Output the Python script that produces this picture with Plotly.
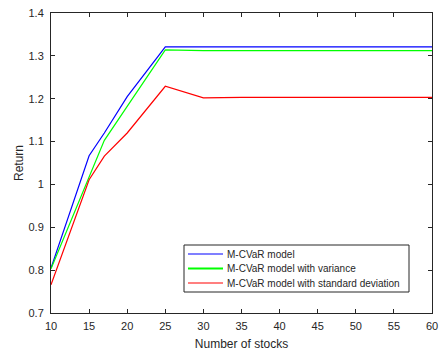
import plotly.graph_objects as go

# Number of stocks in the portfolio
stocks = [10, 15, 17, 20, 25, 30, 35, 40, 45, 50, 55, 60]

# Portfolio return for each model
ret_mcvar = [0.805, 1.067, 1.120, 1.205, 1.321, 1.321, 1.321, 1.321, 1.321, 1.321, 1.321, 1.321]
ret_variance = [0.803, 1.015, 1.103, 1.182, 1.314, 1.312, 1.312, 1.312, 1.312, 1.312, 1.312, 1.312]
ret_std = [0.766, 1.011, 1.066, 1.120, 1.229, 1.202, 1.203, 1.203, 1.203, 1.203, 1.203, 1.203]

series_names = ["M-CVaR model", "M-CVaR model with variance", "M-CVaR model with standard deviation"]
series_colors = ["#0000FF", "#00FF00", "#FF0000"]
legend_widths = [1.2, 2.2, 1.2]

x_ticks = [10, 15, 20, 25, 30, 35, 40, 45, 50, 55, 60]
y_ticks = [0.7, 0.8, 0.9, 1.0, 1.1, 1.2, 1.3, 1.4]
y_tick_text = ["0.7", "0.8", "0.9", "1", "1.1", "1.2", "1.3", "1.4"]

FONT = "Arial, Liberation Sans, sans-serif"
TEXT_COLOR = "#262626"

W, H = 441, 355
ML, MR, MT, MB = 51, 9, 13, 42
PW, PH = W - ML - MR, H - MT - MB

fig = go.Figure()
for name, values, color in zip(series_names, [ret_mcvar, ret_variance, ret_std], series_colors):
    fig.add_trace(go.Scatter(
        x=stocks, y=values, mode="lines", name=name,
        line=dict(color=color, width=1.2), showlegend=False,
    ))

axis_common = dict(
    showline=True, linecolor=TEXT_COLOR, linewidth=1, mirror="ticks",
    ticks="inside", ticklen=4, tickcolor=TEXT_COLOR, tickwidth=1,
    showgrid=False, zeroline=False, automargin=False,
    tickfont=dict(family=FONT, size=11, color=TEXT_COLOR),
)

fig.update_xaxes(
    range=[10, 60], tickvals=x_ticks, ticklabelstandoff=3,
    title=dict(text="Number of stocks", standoff=8,
               font=dict(family=FONT, size=12, color=TEXT_COLOR)),
    **axis_common,
)
fig.update_yaxes(
    range=[0.7, 1.4], tickvals=y_ticks, ticktext=y_tick_text, ticklabelstandoff=4,
    title=dict(text="Return", standoff=2,
               font=dict(family=FONT, size=12, color=TEXT_COLOR)),
    **axis_common,
)


# Legend box drawn in paper coordinates (pixel positions converted)
def px_x(p):
    return (p - ML) / PW


def px_y(p):
    return (H - MB - p) / PH


box_l, box_r, box_t, box_b = 184, 409, 245, 292
fig.add_shape(type="rect", xref="paper", yref="paper",
              x0=px_x(box_l), x1=px_x(box_r), y0=px_y(box_b), y1=px_y(box_t),
              line=dict(color=TEXT_COLOR, width=1), fillcolor="white", layer="above")

row_y = [254, 268.5, 283]
for name, color, lw, ry in zip(series_names, series_colors, legend_widths, row_y):
    fig.add_shape(type="line", xref="paper", yref="paper",
                  x0=px_x(188), x1=px_x(223), y0=px_y(ry), y1=px_y(ry),
                  line=dict(color=color, width=lw), layer="above")
    fig.add_annotation(xref="paper", yref="paper", x=px_x(225), y=px_y(ry),
                       xanchor="left", yanchor="middle", showarrow=False,
                       text=name, font=dict(family=FONT, size=10, color=TEXT_COLOR))

fig.update_layout(
    width=W, height=H,
    margin=dict(l=ML, r=MR, t=MT, b=MB),
    plot_bgcolor="white", paper_bgcolor="white",
    showlegend=False,
)

fig.write_html("out.html")
